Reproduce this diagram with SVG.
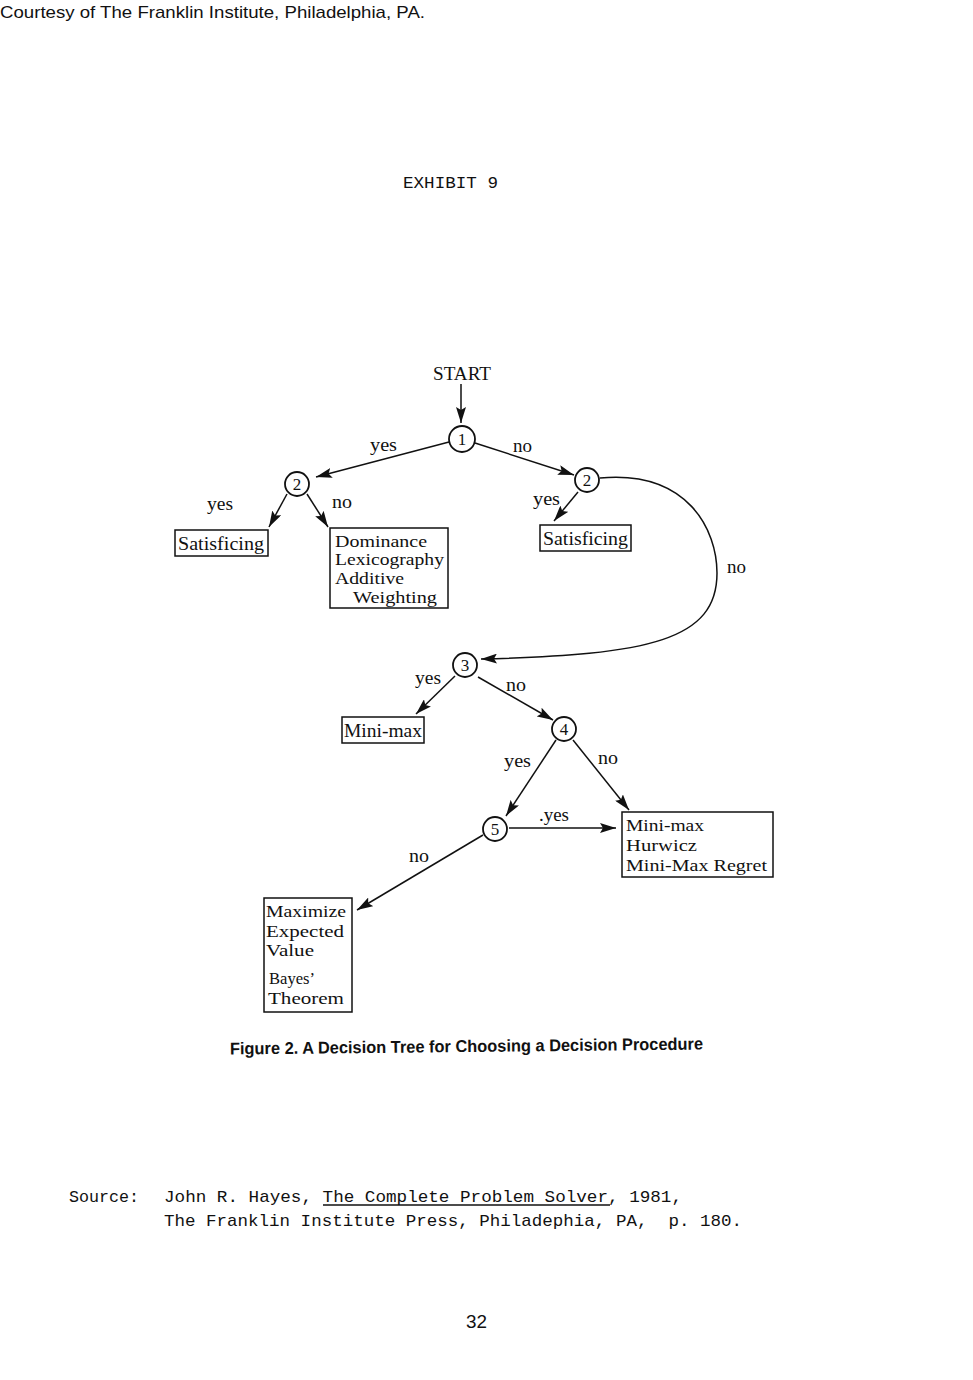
<svg xmlns="http://www.w3.org/2000/svg" width="973" height="1380" viewBox="0 0 973 1380">
<defs>
<style>
.bg{fill:#fff}
.hdr{font-family:"Liberation Sans",Arial,sans-serif;font-size:17px;fill:#111}
.mono{font-family:"Liberation Mono","Courier New",monospace;font-size:17px;fill:#111}
.t{font-family:"Liberation Serif","Times New Roman",serif;font-size:19px;fill:#111}
.ts{font-family:"Liberation Serif","Times New Roman",serif;font-size:17.5px;fill:#111}
.lbl{font-family:"Liberation Serif","Times New Roman",serif;font-size:18px;fill:#111}
.num{font-family:"Liberation Serif","Times New Roman",serif;font-size:17px;fill:#111;text-anchor:middle}
.cap{font-family:"Liberation Sans",Arial,sans-serif;font-size:17px;font-weight:bold;fill:#111}
.box{fill:none;stroke:#111;stroke-width:1.5}
.node{fill:#fff;stroke:#111;stroke-width:1.8}
.edge{fill:none;stroke:#111;stroke-width:1.5;marker-end:url(#ah)}
</style>
<marker id="ah" viewBox="0 0 16 10" refX="16" refY="5" markerWidth="16" markerHeight="10" orient="auto" markerUnits="userSpaceOnUse">
<path d="M0,0 L16,5 L0,10 L3,5 z" fill="#111"/>
</marker>
</defs>
<rect class="bg" x="0" y="0" width="973" height="1380"/>

<text class="hdr" x="0" y="18" textLength="425" lengthAdjust="spacingAndGlyphs">Courtesy of The Franklin Institute, Philadelphia, PA.</text>
<text class="mono" x="403" y="188" textLength="95" lengthAdjust="spacingAndGlyphs">EXHIBIT 9</text>

<g id="connectors">
<line class="edge" x1="461" y1="384" x2="461" y2="423"/>
<line class="edge" x1="449" y1="442" x2="316" y2="477"/>
<line class="edge" x1="475" y1="443" x2="574" y2="475"/>
<line class="edge" x1="287" y1="494" x2="269" y2="527"/>
<line class="edge" x1="307" y1="494" x2="328" y2="527"/>
<line class="edge" x1="578" y1="492" x2="554" y2="521"/>
<path class="edge" d="M600,478 C688,470 717,530 717,573 C717,640 650,655 481,659"/>
<line class="edge" x1="455" y1="676" x2="416" y2="714"/>
<line class="edge" x1="478" y1="677" x2="553" y2="720"/>
<line class="edge" x1="556" y1="740" x2="506" y2="816"/>
<line class="edge" x1="573" y1="740" x2="629" y2="810"/>
<line class="edge" x1="509" y1="828" x2="616" y2="828"/>
<line class="edge" x1="483" y1="835" x2="357" y2="910"/>
</g>

<g id="edge-labels">
<text class="lbl" x="370" y="451" textLength="27" lengthAdjust="spacingAndGlyphs">yes</text>
<text class="lbl" x="513" y="452" textLength="19" lengthAdjust="spacingAndGlyphs">no</text>
<text class="lbl" x="207" y="510" textLength="26" lengthAdjust="spacingAndGlyphs">yes</text>
<text class="lbl" x="332" y="508" textLength="20" lengthAdjust="spacingAndGlyphs">no</text>
<text class="lbl" x="533" y="505" textLength="27" lengthAdjust="spacingAndGlyphs">yes</text>
<text class="lbl" x="727" y="573" textLength="19" lengthAdjust="spacingAndGlyphs">no</text>
<text class="lbl" x="415" y="684" textLength="26" lengthAdjust="spacingAndGlyphs">yes</text>
<text class="lbl" x="506" y="691" textLength="20" lengthAdjust="spacingAndGlyphs">no</text>
<text class="lbl" x="504" y="767" textLength="27" lengthAdjust="spacingAndGlyphs">yes</text>
<text class="lbl" x="598" y="764" textLength="20" lengthAdjust="spacingAndGlyphs">no</text>
<text class="lbl" x="539" y="821" textLength="30" lengthAdjust="spacingAndGlyphs">.yes</text>
<text class="lbl" x="409" y="862" textLength="20" lengthAdjust="spacingAndGlyphs">no</text>
</g>

<g id="start"><text class="t" x="433" y="380" textLength="58" lengthAdjust="spacingAndGlyphs">START</text></g>

<g id="n1"><circle class="node" cx="462" cy="439" r="13"/><text class="num" x="462" y="445">1</text></g>
<g id="n2a"><circle class="node" cx="297" cy="484" r="12"/><text class="num" x="297" y="490">2</text></g>
<g id="n2b"><circle class="node" cx="587" cy="480" r="12"/><text class="num" x="587" y="486">2</text></g>
<g id="n3"><circle class="node" cx="465" cy="665" r="12"/><text class="num" x="465" y="671">3</text></g>
<g id="n4"><circle class="node" cx="564" cy="729" r="12"/><text class="num" x="564" y="735">4</text></g>
<g id="n5"><circle class="node" cx="495" cy="829" r="12"/><text class="num" x="495" y="835">5</text></g>

<g id="satisficing-left">
<rect class="box" x="175" y="530" width="93" height="26"/>
<text class="t" x="178" y="550" textLength="86" lengthAdjust="spacingAndGlyphs">Satisficing</text>
</g>
<g id="dominance">
<rect class="box" x="330" y="528" width="118" height="80"/>
<text class="ts" x="335" y="547" textLength="92" lengthAdjust="spacingAndGlyphs">Dominance</text>
<text class="ts" x="335" y="565" textLength="109" lengthAdjust="spacingAndGlyphs">Lexicography</text>
<text class="ts" x="335" y="584" textLength="69" lengthAdjust="spacingAndGlyphs">Additive</text>
<text class="ts" x="353" y="603" textLength="84" lengthAdjust="spacingAndGlyphs">Weighting</text>
</g>
<g id="satisficing-right">
<rect class="box" x="540" y="525" width="91" height="26"/>
<text class="t" x="543" y="545" textLength="85" lengthAdjust="spacingAndGlyphs">Satisficing</text>
</g>
<g id="minimax">
<rect class="box" x="342" y="717" width="82" height="26"/>
<text class="t" x="344" y="737" textLength="78" lengthAdjust="spacingAndGlyphs">Mini-max</text>
</g>
<g id="minimax-group">
<rect class="box" x="622" y="812" width="151" height="65"/>
<text class="ts" x="626" y="831" textLength="78" lengthAdjust="spacingAndGlyphs">Mini-max</text>
<text class="ts" x="626" y="851" textLength="71" lengthAdjust="spacingAndGlyphs">Hurwicz</text>
<text class="ts" x="626" y="871" textLength="141" lengthAdjust="spacingAndGlyphs">Mini-Max Regret</text>
</g>
<g id="maximize">
<rect class="box" x="264" y="898" width="88" height="114"/>
<text class="ts" x="266" y="917" textLength="80" lengthAdjust="spacingAndGlyphs">Maximize</text>
<text class="ts" x="266" y="937" textLength="78" lengthAdjust="spacingAndGlyphs">Expected</text>
<text class="ts" x="266" y="956" textLength="48" lengthAdjust="spacingAndGlyphs">Value</text>
<text class="ts" x="269" y="984" textLength="46" lengthAdjust="spacingAndGlyphs">Bayes’</text>
<text class="ts" x="268" y="1004" textLength="76" lengthAdjust="spacingAndGlyphs">Theorem</text>
</g>

<text class="cap" x="230" y="1052" textLength="473" lengthAdjust="spacingAndGlyphs" transform="rotate(-0.6 466 1048)">Figure 2. A Decision Tree for Choosing a Decision Procedure</text>

<text class="mono" x="69" y="1202" textLength="70" lengthAdjust="spacingAndGlyphs">Source:</text>
<text class="mono" x="164" y="1202" textLength="518" lengthAdjust="spacingAndGlyphs">John R. Hayes, The Complete Problem Solver, 1981,</text>
<line x1="323" y1="1205" x2="610" y2="1205" stroke="#111" stroke-width="1.3"/>
<text class="mono" x="164" y="1226" textLength="578" lengthAdjust="spacingAndGlyphs" style="white-space:pre">The Franklin Institute Press, Philadephia, PA,  p. 180.</text>

<text class="hdr" x="466" y="1328" textLength="21" lengthAdjust="spacingAndGlyphs" style="font-size:19px">32</text>
</svg>
